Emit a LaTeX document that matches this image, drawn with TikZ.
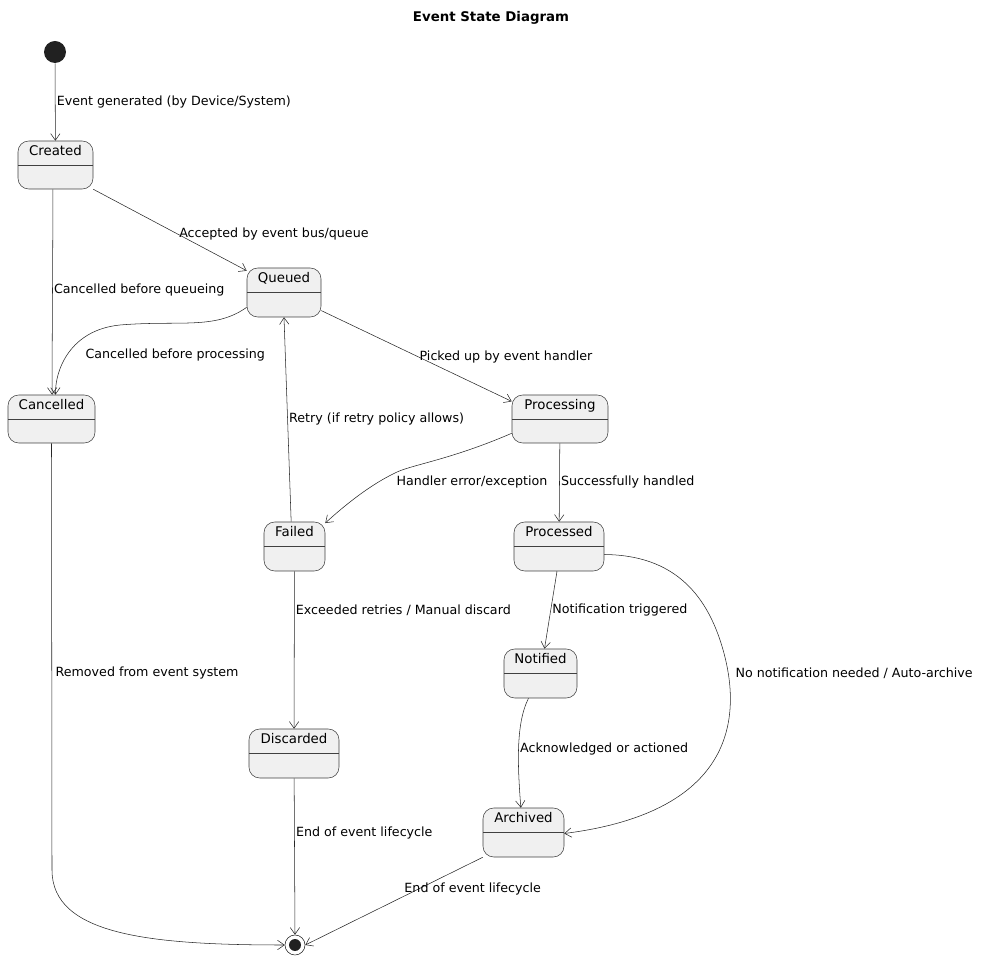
\documentclass[tikz,border=0pt]{standalone}
\usepackage{fontspec}
\setmainfont{DejaVu Sans}
\usetikzlibrary{calc, arrows.meta}
\colorlet{StateFill}{black!6}
\colorlet{StateLine}{black!75}
\tikzset{
    state/.style={
        draw=StateLine, fill=StateFill, rounded corners=8pt, inner sep=0pt,
        path picture={
            \draw[StateLine] ($(path picture bounding box.north west)+(0,-18pt)$)
                -- ($(path picture bounding box.north east)+(0,-18pt)$);
        }
    },
    state name/.style={anchor=north, font=\fontsize{10}{12}\selectfont, inner sep=3pt},
    trans/.style={draw=black!85, -{Straight Barb[length=5pt,width=7pt]}},
    lbl/.style={anchor=west, font=\fontsize{9.5}{11}\selectfont, inner sep=1pt}
}
% one state box: name, centre, width, height, text
\newcommand{\evstate}[5]{
    \node[state, minimum width=#3*0.75pt, minimum height=#4*0.75pt] (#1) at (#2) {};
    \node[state name] at (#1.north) {#5};
}

\begin{document}
\begin{tikzpicture}[x=0.75pt, y=-0.75pt]
\useasboundingbox (0,0) rectangle (983,962);

\node[font=\bfseries\fontsize{10}{12}\selectfont] (title) at (491,18) {Event State Diagram};

% start and end
\node[circle, fill=black!87, minimum size=22*0.75pt, inner sep=0pt] (start) at (55,52) {};
\node[circle, draw=black!87, minimum size=20*0.75pt, inner sep=0pt] (stop) at (295,945) {};
\node[circle, fill=black!87, minimum size=12*0.75pt, inner sep=0pt] at (stop) {};

% states
\evstate{created}{55.5,165}{75}{48}{Created}
\evstate{queued}{284,292.5}{74}{49}{Queued}
\evstate{cancelled}{51.5,419}{87}{48}{Cancelled}
\evstate{processing}{560,419}{96}{48}{Processing}
\evstate{failed}{294.5,546.5}{61}{49}{Failed}
\evstate{processed}{559,546.5}{90}{49}{Processed}
\evstate{notified}{540.5,673.5}{73}{49}{Notified}
\evstate{discarded}{294,753.5}{90}{49}{Discarded}
\evstate{archived}{523.5,832.5}{81}{49}{Archived}

% transitions
\draw[trans] (start) -- node[lbl, pos=0.5] {Event generated (by Device/System)} (created);
\draw[trans] (created.south east) -- node[lbl, pos=0.55] {Accepted by event bus/queue} ([yshift=-2.25pt]queued.north west);
\draw[trans] ([xshift=-2pt]created.south) .. controls (53,250) and (52,330) .. ([xshift=0.5pt]cancelled.north)
    node[lbl, pos=0.5] {Cancelled before queueing};
\draw[trans] ([yshift=7.5pt]queued.south west) .. controls (215,330) and (180,320) .. (120,325)
    .. controls (70,330) and (55,370) .. ([xshift=3pt]cancelled.north);
\node[lbl] (lcq) at (84,355) {Cancelled before processing};
\draw[trans] ([yshift=5pt]queued.south east) -- node[lbl, pos=0.55, xshift=-6pt, yshift=3pt] {Picked up by event handler} ([yshift=-5pt]processing.north west);
\draw[trans] ([xshift=-2.5pt]failed.north) -- node[lbl, pos=0.5] {Retry (if retry policy allows)} (queued.south);
\draw[trans] ([yshift=7.5pt]processing.south west) .. controls (450,460) and (410,465) .. (395,473)
    .. controls (370,485) and (345,505) .. ([yshift=-1pt]failed.north east);
\node[lbl] (lhe) at (395,482) {Handler error/exception};
\draw[trans] (processing) -- node[lbl, pos=0.5] {Successfully handled} (processed);
\draw[trans] (failed) -- node[lbl, pos=0.25] {Exceeded retries / Manual discard} (discarded);
\draw[trans] ([xshift=-1.5pt]processed.south) -- node[lbl, pos=0.5] {Notification triggered} ([xshift=3pt]notified.north);
\draw[trans] ([yshift=-6pt]processed.east) .. controls (660,555) and (700,580) .. (720,640)
    .. controls (740,700) and (750,810) .. ([yshift=-0.75pt]archived.east);
\node[lbl] (lna) at (734,673) {No notification needed / Auto-archive};
\draw[trans] ([xshift=-9pt]notified.south) .. controls (515,725) and (518,770) .. ([xshift=-2pt]archived.north)
    node[lbl, pos=0.5] {Acknowledged or actioned};
\draw[trans] (cancelled.south) -- (52,870) .. controls (52,935) and (150,945) .. (stop.west);
\node[lbl] (lrm) at (54,673) {Removed from event system};
\draw[trans] (discarded) -- node[lbl, pos=0.35] {End of event lifecycle} (stop.north);
\draw[trans] (archived.south west) -- node[lbl, pos=0.45, yshift=6pt] {End of event lifecycle} (stop.east);
\end{tikzpicture}
\end{document}
